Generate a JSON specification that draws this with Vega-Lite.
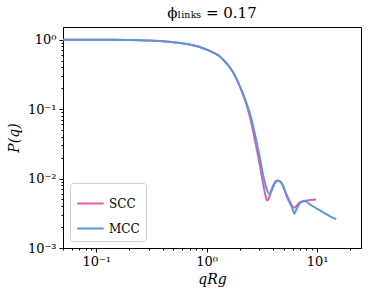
{
  "$schema": "https://vega.github.io/schema/vega-lite/v6.json",
  "width": 298,
  "height": 221,
  "autosize": "none",
  "padding": {"left": 63, "top": 27, "right": 13, "bottom": 47},
  "background": "white",
  "title": {"text": "ϕₗᵢₙₖₛ = 0.17", "font": "DejaVu Serif", "fontSize": 15, "fontWeight": "normal", "color": "black", "offset": 6},
  "config": {
    "view": {"stroke": "black", "strokeWidth": 1},
    "axis": {"labelFont": "DejaVu Serif", "titleFont": "DejaVu Serif", "labelColor": "black", "titleColor": "black", "domainColor": "black", "tickColor": "black", "grid": false, "titleFontWeight": "normal"}
  },
  "data": {"values": [
    {"q": 0.05, "P": 0.9992, "s": "SCC"}, {"q": 0.07, "P": 0.998, "s": "SCC"}, {"q": 0.1, "P": 0.9967, "s": "SCC"}, {"q": 0.15, "P": 0.9925, "s": "SCC"}, {"q": 0.2, "P": 0.987, "s": "SCC"}, {"q": 0.3, "P": 0.97, "s": "SCC"}, {"q": 0.4, "P": 0.948, "s": "SCC"}, {"q": 0.5, "P": 0.92, "s": "SCC"}, {"q": 0.6, "P": 0.887, "s": "SCC"}, {"q": 0.7, "P": 0.85, "s": "SCC"}, {"q": 0.8, "P": 0.808, "s": "SCC"}, {"q": 0.9, "P": 0.764, "s": "SCC"}, {"q": 1.0, "P": 0.718, "s": "SCC"}, {"q": 1.15, "P": 0.65, "s": "SCC"}, {"q": 1.3, "P": 0.58, "s": "SCC"}, {"q": 1.45, "P": 0.49, "s": "SCC"}, {"q": 1.6, "P": 0.41, "s": "SCC"}, {"q": 1.75, "P": 0.33, "s": "SCC"}, {"q": 1.9, "P": 0.255, "s": "SCC"}, {"q": 2.05, "P": 0.19, "s": "SCC"}, {"q": 2.2, "P": 0.142, "s": "SCC"}, {"q": 2.35, "P": 0.102, "s": "SCC"}, {"q": 2.5, "P": 0.07, "s": "SCC"}, {"q": 2.65, "P": 0.046, "s": "SCC"}, {"q": 2.8, "P": 0.03, "s": "SCC"}, {"q": 2.95, "P": 0.0195, "s": "SCC"}, {"q": 3.1, "P": 0.0126, "s": "SCC"}, {"q": 3.25, "P": 0.0083, "s": "SCC"}, {"q": 3.4, "P": 0.0058, "s": "SCC"}, {"q": 3.54, "P": 0.0048, "s": "SCC"}, {"q": 3.7, "P": 0.0055, "s": "SCC"}, {"q": 3.84, "P": 0.0067, "s": "SCC"}, {"q": 4.05, "P": 0.0082, "s": "SCC"}, {"q": 4.26, "P": 0.0093, "s": "SCC"}, {"q": 4.5, "P": 0.0093, "s": "SCC"}, {"q": 4.73, "P": 0.0088, "s": "SCC"}, {"q": 5.25, "P": 0.006, "s": "SCC"}, {"q": 5.62, "P": 0.0048, "s": "SCC"}, {"q": 6.2, "P": 0.0038, "s": "SCC"}, {"q": 6.92, "P": 0.0045, "s": "SCC"}, {"q": 7.94, "P": 0.0048, "s": "SCC"}, {"q": 9.78, "P": 0.005, "s": "SCC"},
    {"q": 0.05, "P": 0.9992, "s": "MCC"}, {"q": 0.07, "P": 0.998, "s": "MCC"}, {"q": 0.1, "P": 0.9967, "s": "MCC"}, {"q": 0.15, "P": 0.9925, "s": "MCC"}, {"q": 0.2, "P": 0.987, "s": "MCC"}, {"q": 0.3, "P": 0.97, "s": "MCC"}, {"q": 0.4, "P": 0.948, "s": "MCC"}, {"q": 0.5, "P": 0.92, "s": "MCC"}, {"q": 0.6, "P": 0.887, "s": "MCC"}, {"q": 0.7, "P": 0.85, "s": "MCC"}, {"q": 0.8, "P": 0.808, "s": "MCC"}, {"q": 0.9, "P": 0.764, "s": "MCC"}, {"q": 1.0, "P": 0.718, "s": "MCC"}, {"q": 1.15, "P": 0.65, "s": "MCC"}, {"q": 1.3, "P": 0.58, "s": "MCC"}, {"q": 1.45, "P": 0.49, "s": "MCC"}, {"q": 1.6, "P": 0.41, "s": "MCC"}, {"q": 1.75, "P": 0.33, "s": "MCC"}, {"q": 1.9, "P": 0.257, "s": "MCC"}, {"q": 2.05, "P": 0.195, "s": "MCC"}, {"q": 2.2, "P": 0.148, "s": "MCC"}, {"q": 2.35, "P": 0.11, "s": "MCC"}, {"q": 2.5, "P": 0.08, "s": "MCC"}, {"q": 2.65, "P": 0.055, "s": "MCC"}, {"q": 2.8, "P": 0.037, "s": "MCC"}, {"q": 2.95, "P": 0.025, "s": "MCC"}, {"q": 3.1, "P": 0.0165, "s": "MCC"}, {"q": 3.25, "P": 0.0112, "s": "MCC"}, {"q": 3.4, "P": 0.0082, "s": "MCC"}, {"q": 3.55, "P": 0.0066, "s": "MCC"}, {"q": 3.71, "P": 0.006, "s": "MCC"}, {"q": 3.9, "P": 0.0068, "s": "MCC"}, {"q": 4.11, "P": 0.0084, "s": "MCC"}, {"q": 4.41, "P": 0.0093, "s": "MCC"}, {"q": 4.65, "P": 0.009, "s": "MCC"}, {"q": 4.89, "P": 0.008, "s": "MCC"}, {"q": 5.43, "P": 0.0051, "s": "MCC"}, {"q": 6.02, "P": 0.0036, "s": "MCC"}, {"q": 6.23, "P": 0.0031, "s": "MCC"}, {"q": 6.5, "P": 0.0036, "s": "MCC"}, {"q": 6.92, "P": 0.0043, "s": "MCC"}, {"q": 7.68, "P": 0.0048, "s": "MCC"}, {"q": 8.52, "P": 0.0043, "s": "MCC"}, {"q": 10.5, "P": 0.0035, "s": "MCC"}, {"q": 12.9, "P": 0.0029, "s": "MCC"}, {"q": 14.9, "P": 0.0026, "s": "MCC"}
  ]},
  "layer": [
    {
      "mark": {"type": "line", "opacity": 0},
      "encoding": {
        "x": {"field": "q", "type": "quantitative", "scale": {"type": "log", "domain": [0.05, 25], "nice": false},
          "axis": {"orient": "bottom", "values": [0.05, 0.06, 0.07, 0.08, 0.09, 0.2, 0.3, 0.4, 0.5, 0.6, 0.7, 0.8, 0.9, 2, 3, 4, 5, 6, 7, 8, 9, 20], "labels": false, "tickSize": 2, "domain": false, "title": null}},
        "y": {"field": "P", "type": "quantitative", "scale": {"type": "log", "domain": [0.001, 1.52], "nice": false},
          "axis": {"orient": "left", "values": [0.002, 0.003, 0.004, 0.005, 0.006, 0.007, 0.008, 0.009, 0.02, 0.03, 0.04, 0.05, 0.06, 0.07, 0.08, 0.09, 0.2, 0.3, 0.4, 0.5, 0.6, 0.7, 0.8, 0.9], "labels": false, "tickSize": 2, "domain": false, "title": null}}
      }
    },
    {
      "mark": {"type": "line", "strokeWidth": 2, "interpolate": "monotone"},
      "encoding": {
        "x": {"field": "q", "type": "quantitative", "scale": {"type": "log", "domain": [0.05, 25], "nice": false},
          "axis": {"orient": "bottom", "values": [0.1, 1, 10], "tickSize": 4, "labelFontSize": 13, "labelPadding": 3, "labelExpr": "datum.value < 0.5 ? '10⁻¹' : datum.value < 5 ? '10⁰' : '10¹'", "title": "qRg", "titleFontSize": 14, "titleFontStyle": "italic", "titlePadding": 4}},
        "y": {"field": "P", "type": "quantitative", "scale": {"type": "log", "domain": [0.001, 1.52], "nice": false},
          "axis": {"orient": "left", "values": [0.001, 0.01, 0.1, 1], "tickSize": 4, "labelFontSize": 13, "labelPadding": 3, "labelExpr": "datum.value > 0.5 ? '10⁰' : datum.value > 0.05 ? '10⁻¹' : datum.value > 0.005 ? '10⁻²' : '10⁻³'", "title": "P(q)", "titleFontSize": 14, "titleFontStyle": "italic", "titlePadding": 6}},
        "color": {"field": "s", "type": "nominal", "scale": {"domain": ["SCC", "MCC"], "range": ["#e05cac", "#5a96dc"]},
          "legend": {"orient": "bottom-left", "offset": 7, "title": null, "symbolType": "stroke", "symbolStrokeWidth": 2, "symbolSize": 700, "labelFont": "DejaVu Serif", "labelFontSize": 12, "labelColor": "black", "strokeColor": "#d0d0d0", "fillColor": "white", "cornerRadius": 3, "padding": 6, "rowPadding": 4}}
      }
    }
  ],
  "resolve": {"axis": {"x": "independent", "y": "independent"}}
}
